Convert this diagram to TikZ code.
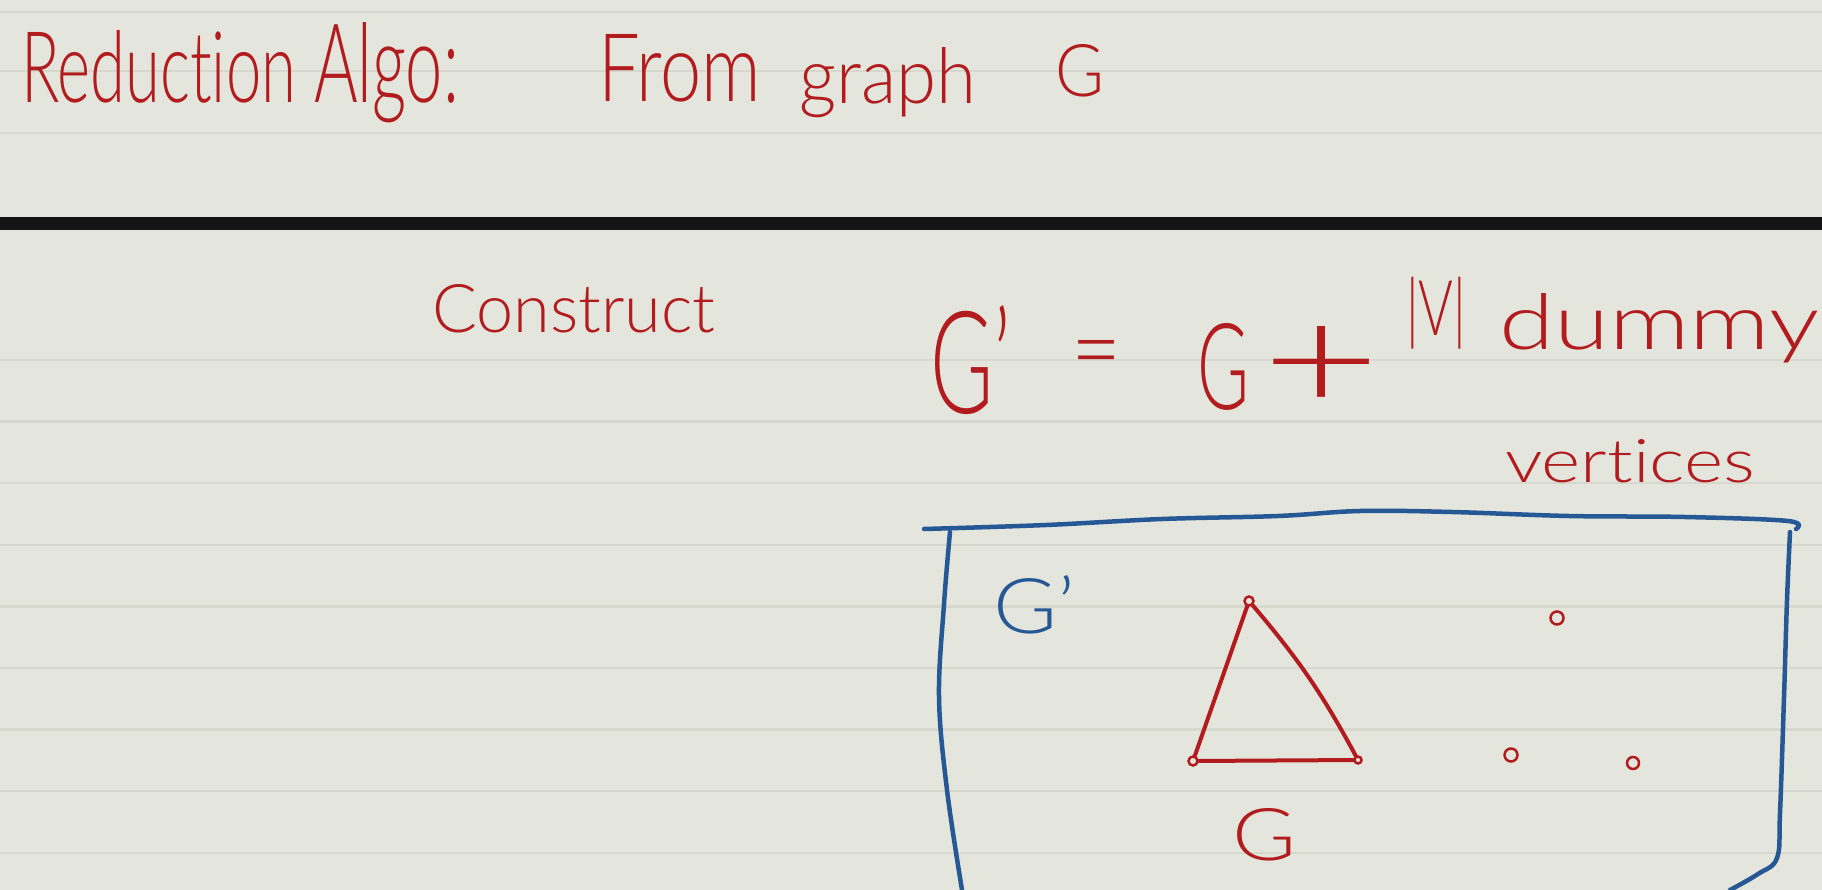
\documentclass[tikz,border=0pt]{standalone}
\usepackage{fontspec}
\setmainfont{Lato Light}[Ligatures={TeX,NoCommon}]
\usepackage{graphicx}
\definecolor{paper}{RGB}{228,229,220}
\definecolor{ruling}{RGB}{214,216,205}
\definecolor{ink}{RGB}{178,28,30}
\definecolor{pen}{RGB}{38,88,150}
\newcommand{\fitbox}[3]{\resizebox{#1pt}{#2pt}{#3}}
\newcommand{\fitboxall}[3]{\resizebox*{#1pt}{#2pt}{#3}}
\begin{document}
\begin{tikzpicture}[x=1pt,y=-1pt,
  hw/.style={inner sep=0pt, outer sep=0pt, anchor=base west, text=ink},
  hwsw/.style={inner sep=0pt, outer sep=0pt, anchor=south west, text=ink},
  hwblue/.style={hw, text=pen},
  ruleline/.style={draw=ruling, line width=2.5pt},
  vtx/.style={circle, draw=ink, line width=2.5pt, inner sep=0pt, minimum size=9pt},
  gedge/.style={draw=ink, line width=4pt, line cap=round},
  frame/.style={draw=pen, line width=4.5pt, line cap=round, line join=round}]
\useasboundingbox (0,0) rectangle (1822,890);
\fill[paper] (0,0) rectangle (1822,890);
\foreach \y in {12,71,133} \draw[ruleline] (0,\y) -- (1822,\y);
\foreach \k in {0,...,8} \draw[ruleline] (0,{360+61.6*\k}) -- (1822,{360+61.6*\k});
\fill[black!92] (0,217) rectangle (1822,230);
% title
\node[hw] (t1) at (21,103) {\fitbox{275}{72}{Reduction}};
\node[hw] (t2) at (314,103) {\fitbox{145}{80}{Algo:}};
\node[hw] (t3) at (598,102) {\fitbox{163}{67}{From}};
\node[hw] (t4) at (799,104) {\fitbox{177}{56}{graph}};
\node[hw] (t5) at (1055,97) {\fitbox{49}{52}{G}};
% construct line
\node[hw] (cons) at (432,333) {\fitbox{283}{48}{Construct}};
\node[hw] (gp) at (930,413) {\fitbox{81}{108}{G'}};
\node[hw] (eq) at (1071,383) {\fitbox{50}{43}{=}};
\node[hw] (g1) at (1197,409) {\fitbox{52}{86}{G}};
\node[hw] (plus) at (1262,410) {\fitbox{118}{84}{+}};
\node[hwsw] (vv) at (1406,349) {\fitboxall{60}{72}{|V|}};
\node[hw] (dm) at (1499,349) {\fitbox{320}{56}{dummy}};
\node[hw] (vt) at (1505,482) {\fitbox{250}{43}{vertices}};
% box G'
\draw[frame] plot[smooth, tension=0.6] coordinates {(924,529) (1046,525) (1162,519) (1278,516) (1360,511) (1452,512) (1569,516) (1685,517) (1788,521) (1796,529)};
\draw[frame] plot[smooth, tension=0.6] coordinates {(1790,532) (1787,600) (1784,697) (1780,813) (1777,858) (1758,874) (1730,890)};
\draw[frame] plot[smooth, tension=0.6] coordinates {(950,532) (944,604) (939,697) (947,790) (962,890)};
\node[hwblue] (gb) at (993,633) {\fitbox{82}{58}{G'}};
% graph G
\node[vtx] (a) at (1249,601) {};
\node[vtx] (b) at (1193,761) {};
\node[vtx, minimum size=7pt] (c) at (1358,760) {};
\draw[gedge] (a) -- (b);
\draw[gedge] (a) to[bend left=6] (c);
\draw[gedge] (b) -- (c);
\node[hw] (gl) at (1232,860) {\fitbox{64}{52}{G}};
% dummy vertices
\node[vtx, minimum size=13pt] (d1) at (1557,618) {};
\node[vtx, minimum size=13pt] (d2) at (1511,755) {};
\node[vtx, minimum size=12pt] (d3) at (1633,763) {};
\end{tikzpicture}
\end{document}
